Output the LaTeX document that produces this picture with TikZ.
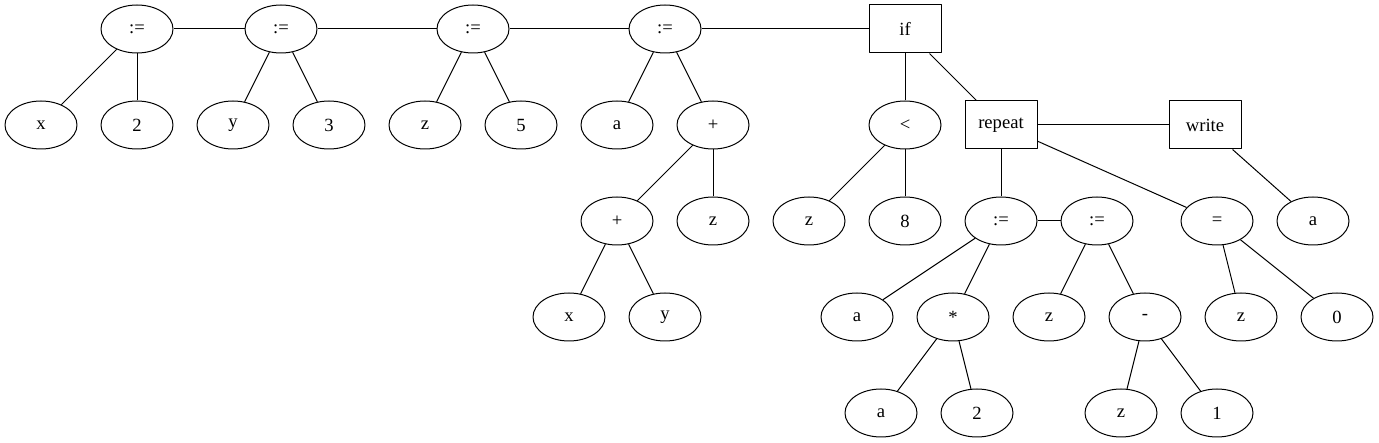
\documentclass[tikz,border=0pt]{standalone}
\usepackage{fontspec}
\setmainfont{Liberation Serif}
\usetikzlibrary{shapes}

\begin{document}
\begin{tikzpicture}[line join=bevel,line width=1bp,
  font=\fontsize{18.7}{22}\selectfont,
  opnode/.style={draw,ellipse,minimum width=72bp,minimum height=48bp,inner sep=0pt},
  stmtbox/.style={draw,rectangle,minimum width=72bp,minimum height=48bp,inner sep=0pt},
]
\useasboundingbox (0bp,0bp) rectangle (1379bp,443bp);
%%
\node (node_0) at (137bp,414bp) [opnode] {:=};
  \node (node_1) at (41bp,318bp) [opnode] {x};
  \node (node_2) at (137bp,318bp) [opnode] {2};
  \node (node_3) at (281bp,414bp) [opnode] {:=};
  \node (node_4) at (233bp,318bp) [opnode] {y};
  \node (node_5) at (329bp,318bp) [opnode] {3};
  \node (node_6) at (473bp,414bp) [opnode] {:=};
  \node (node_7) at (425bp,318bp) [opnode] {z};
  \node (node_8) at (521bp,318bp) [opnode] {5};
  \node (node_9) at (665bp,414bp) [opnode] {:=};
  \node (node_10) at (617bp,318bp) [opnode] {a};
  \node (node_11) at (713bp,318bp) [opnode] {+};
  \node (node_12) at (617bp,222bp) [opnode] {+};
  \node (node_13) at (713bp,222bp) [opnode] {z};
  \node (node_14) at (569bp,126bp) [opnode] {x};
  \node (node_15) at (665bp,126bp) [opnode] {y};
  \node (node_16) at (905bp,414bp) [stmtbox] {if};
  \node (node_17) at (905bp,318bp) [opnode] {<};
  \node (node_18) at (1001bp,318bp) [stmtbox] {repeat};
  \node (node_19) at (1205bp,318bp) [stmtbox] {write};
  \node (node_20) at (809bp,222bp) [opnode] {z};
  \node (node_21) at (905bp,222bp) [opnode] {8};
  \node (node_22) at (1001bp,222bp) [opnode] {:=};
  \node (node_23) at (1097bp,222bp) [opnode] {:=};
  \node (node_24) at (1217bp,222bp) [opnode] {=};
  \node (node_25) at (1313bp,222bp) [opnode] {a};
  \node (node_26) at (857bp,126bp) [opnode] {a};
  \node (node_27) at (953bp,126bp) [opnode] {*};
  \node (node_28) at (1049bp,126bp) [opnode] {z};
  \node (node_29) at (1145bp,126bp) [opnode] {-};
  \node (node_30) at (1241bp,126bp) [opnode] {z};
  \node (node_31) at (1337bp,126bp) [opnode] {0};
  \node (node_32) at (881bp,30bp) [opnode] {a};
  \node (node_33) at (977bp,30bp) [opnode] {2};
  \node (node_34) at (1121bp,30bp) [opnode] {z};
  \node (node_35) at (1217bp,30bp) [opnode] {1};
  \draw [black] (node_0) -- (node_3);
  \draw [black] (node_3) -- (node_6);
  \draw [black] (node_6) -- (node_9);
  \draw [black] (node_9) -- (node_16);
  \draw [black] (node_0) -- (node_1);
  \draw [black] (node_0) -- (node_2);
  \draw [black] (node_3) -- (node_4);
  \draw [black] (node_3) -- (node_5);
  \draw [black] (node_6) -- (node_7);
  \draw [black] (node_6) -- (node_8);
  \draw [black] (node_9) -- (node_10);
  \draw [black] (node_9) -- (node_11);
  \draw [black] (node_11) -- (node_12);
  \draw [black] (node_11) -- (node_13);
  \draw [black] (node_12) -- (node_14);
  \draw [black] (node_12) -- (node_15);
  \draw [black] (node_16) -- (node_17);
  \draw [black] (node_16) -- (node_18);
  \draw [black] (node_18) -- (node_19);
  \draw [black] (node_17) -- (node_20);
  \draw [black] (node_17) -- (node_21);
  \draw [black] (node_18) -- (node_22);
  \draw [black] (node_18) -- (node_24);
  \draw [black] (node_22) -- (node_23);
  \draw [black] (node_19) -- (node_25);
  \draw [black] (node_22) -- (node_26);
  \draw [black] (node_22) -- (node_27);
  \draw [black] (node_27) -- (node_32);
  \draw [black] (node_27) -- (node_33);
  \draw [black] (node_23) -- (node_28);
  \draw [black] (node_23) -- (node_29);
  \draw [black] (node_29) -- (node_34);
  \draw [black] (node_29) -- (node_35);
  \draw [black] (node_24) -- (node_30);
  \draw [black] (node_24) -- (node_31);
%
\end{tikzpicture}
\end{document}
